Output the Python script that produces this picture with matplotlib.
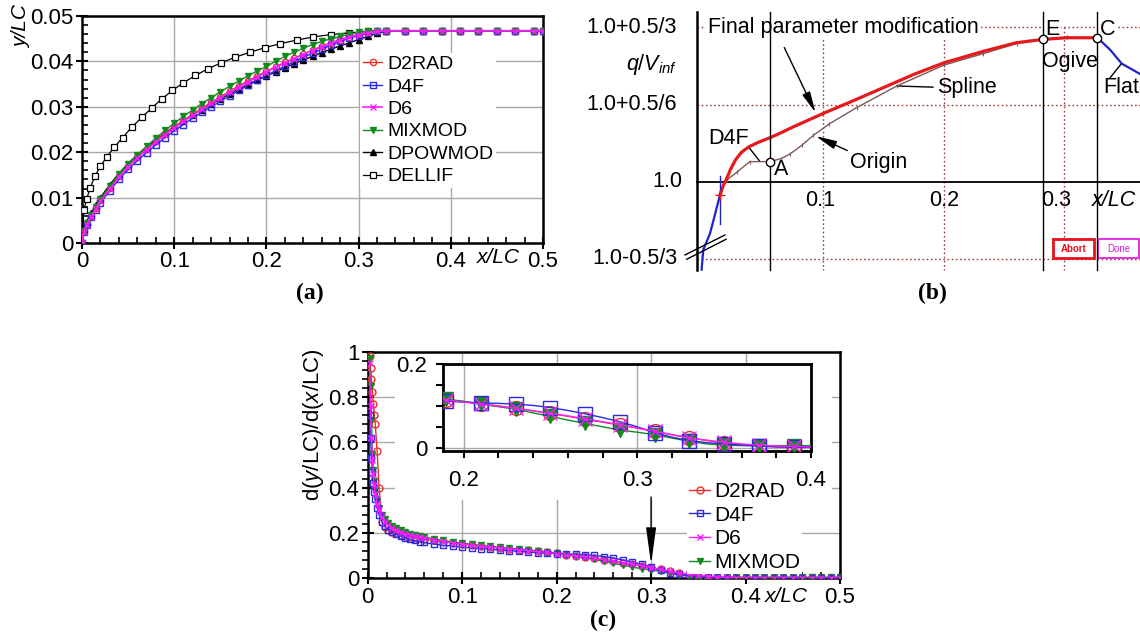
import matplotlib
matplotlib.use('Agg')
import matplotlib.pyplot as plt
from matplotlib.ticker import MultipleLocator, FuncFormatter
from matplotlib.patches import Rectangle

plt.rcParams['font.family'] = ['Liberation Sans', 'DejaVu Sans']
plt.rcParams['mathtext.fontset'] = 'custom'
plt.rcParams['mathtext.rm'] = 'Liberation Sans'
plt.rcParams['mathtext.it'] = 'Liberation Sans:italic'

# ---------------- (a) y/LC over x/LC ----------------
xa = [0, 0.002, 0.005, 0.01, 0.015, 0.02, 0.03, 0.04, 0.05, 0.06, 0.07, 0.08, 0.09,
      0.10, 0.11, 0.12, 0.13, 0.14, 0.15, 0.16, 0.17, 0.18, 0.19, 0.20, 0.21, 0.22,
      0.23, 0.24, 0.25, 0.26, 0.27, 0.28, 0.29, 0.30, 0.31, 0.32, 0.33, 0.35, 0.37,
      0.39, 0.41, 0.43, 0.45, 0.47, 0.49, 0.50]
ya_d2rad = [0, 0.0026, 0.0042, 0.0060, 0.0077, 0.0094, 0.0121, 0.0147, 0.0170, 0.0190,
            0.0208, 0.0225, 0.0241, 0.0256, 0.0270, 0.0284, 0.0297, 0.0310, 0.0322,
            0.0334, 0.0346, 0.0357, 0.0368, 0.0378, 0.0388, 0.0398, 0.0407, 0.0416,
            0.0425, 0.0433, 0.0441, 0.0448, 0.0454, 0.0460, 0.0464, 0.0466, 0.0467,
            0.0467, 0.0467, 0.0467, 0.0467, 0.0467, 0.0467, 0.0467, 0.0467, 0.0467]
ya_d4f = [0, 0.0024, 0.0039, 0.0057, 0.0073, 0.0089, 0.0114, 0.0140, 0.0162, 0.0181,
          0.0199, 0.0216, 0.0232, 0.0247, 0.0261, 0.0275, 0.0288, 0.0300, 0.0312,
          0.0324, 0.0336, 0.0347, 0.0358, 0.0369, 0.0379, 0.0389, 0.0399, 0.0409,
          0.0418, 0.0427, 0.0436, 0.0444, 0.0451, 0.0457, 0.0462, 0.0466, 0.0467,
          0.0467, 0.0467, 0.0467, 0.0467, 0.0467, 0.0467, 0.0467, 0.0467, 0.0467]
ya_d6 = [0, 0.0025, 0.0040, 0.0058, 0.0075, 0.0092, 0.0118, 0.0145, 0.0168, 0.0187,
         0.0205, 0.0222, 0.0238, 0.0253, 0.0268, 0.0281, 0.0295, 0.0308, 0.0320,
         0.0332, 0.0344, 0.0355, 0.0366, 0.0377, 0.0387, 0.0397, 0.0406, 0.0415,
         0.0424, 0.0432, 0.0440, 0.0447, 0.0453, 0.0459, 0.0463, 0.0466, 0.0467,
         0.0467, 0.0467, 0.0467, 0.0467, 0.0467, 0.0467, 0.0467, 0.0467, 0.0467]
ya_mixmod = [0, 0.0027, 0.0043, 0.0062, 0.0079, 0.0097, 0.0125, 0.0151, 0.0174, 0.0194,
             0.0213, 0.0231, 0.0248, 0.0264, 0.0279, 0.0293, 0.0307, 0.0320, 0.0333,
             0.0345, 0.0357, 0.0368, 0.0379, 0.0389, 0.0400, 0.0411, 0.0420, 0.0429,
             0.0437, 0.0444, 0.0450, 0.0455, 0.0460, 0.0464, 0.0467, 0.0468, 0.0468,
             0.0468, 0.0468, 0.0468, 0.0468, 0.0468, 0.0468, 0.0468, 0.0468, 0.0468]
ya_dpowmod = [0, 0.0030, 0.0047, 0.0066, 0.0083, 0.0100, 0.0128, 0.0153, 0.0175, 0.0194,
              0.0211, 0.0227, 0.0242, 0.0256, 0.0269, 0.0282, 0.0294, 0.0306, 0.0317,
              0.0328, 0.0339, 0.0349, 0.0359, 0.0368, 0.0377, 0.0386, 0.0395, 0.0403,
              0.0411, 0.0419, 0.0427, 0.0434, 0.0441, 0.0448, 0.0455, 0.0462, 0.0467,
              0.0467, 0.0467, 0.0467, 0.0467, 0.0467, 0.0467, 0.0467, 0.0467, 0.0467]
xa_dellif = [0, 0.002, 0.005, 0.009, 0.014, 0.02, 0.027, 0.035, 0.044, 0.054, 0.065,
             0.076, 0.087, 0.098, 0.11, 0.123, 0.137, 0.151, 0.166, 0.182, 0.198, 0.215,
             0.233, 0.251, 0.27, 0.29, 0.31, 0.33, 0.35, 0.37, 0.39, 0.41, 0.43, 0.45,
             0.47, 0.49]
ya_dellif = [0, 0.0072, 0.0097, 0.0122, 0.0147, 0.0169, 0.0190, 0.0211, 0.0232, 0.0255,
             0.0277, 0.0298, 0.0318, 0.0336, 0.0353, 0.0369, 0.0384, 0.0397, 0.0409,
             0.0420, 0.0430, 0.0439, 0.0447, 0.0454, 0.0459, 0.0463, 0.0466, 0.0467,
             0.0467, 0.0467, 0.0467, 0.0467, 0.0467, 0.0467, 0.0467, 0.0467]

# ---------------- (b) q/V_inf sketch (y in steps of 0.5/6 above 1.0) ----------------
xb_red = [0.0143, 0.017, 0.0198, 0.023, 0.027, 0.032, 0.038, 0.046, 0.0558, 0.065,
          0.075, 0.1, 0.122, 0.15, 0.175, 0.2, 0.233, 0.26, 0.283, 0.302, 0.327]
yb_red = [-0.17, -0.05, 0.04, 0.16, 0.28, 0.38, 0.45, 0.51, 0.57, 0.635, 0.71, 0.885,
          1.03, 1.22, 1.39, 1.54, 1.69, 1.80, 1.845, 1.865, 1.865]
xb_origin = [0.0198, 0.028, 0.039, 0.0558, 0.065, 0.0724, 0.082, 0.0917, 0.105, 0.1277,
             0.161, 0.2, 0.2328, 0.2605, 0.2826, 0.302, 0.327]
yb_origin = [0.02, 0.12, 0.26, 0.26, 0.30, 0.36, 0.47, 0.60, 0.75, 0.96, 1.24, 1.51,
             1.66, 1.79, 1.844, 1.87, 1.865]
xb_blue_front = [-0.001, 0.0004, 0.006, 0.0105, 0.0143]
yb_blue_front = [-1.14, -0.88, -0.67, -0.40, -0.17]
xb_blue_flat = [0.3274, 0.338, 0.3476, 0.3629]
yb_blue_flat = [1.865, 1.71, 1.53, 1.395]
xb_points = [0.0558, 0.2826, 0.3274]   # A, E, C
yb_points = [0.26, 1.844, 1.865]
yb_ticklabels = ['1.0-0.5/3', '1.0', '1.0+0.5/6', '1.0+0.5/3']
yb_tickpos = [-1, 0, 1, 2]

# ---------------- (c) slope d(y/LC)/d(x/LC) ----------------
xc = [0.002, 0.003, 0.004, 0.005, 0.006, 0.007, 0.008, 0.010, 0.012, 0.015, 0.018,
      0.022, 0.026, 0.030, 0.035, 0.040, 0.045, 0.050, 0.055, 0.060, 0.07, 0.08, 0.09,
      0.10, 0.11, 0.12, 0.13, 0.14, 0.15, 0.16, 0.17, 0.18, 0.19, 0.20, 0.21, 0.22,
      0.23, 0.24, 0.25, 0.26, 0.27, 0.28, 0.29, 0.30, 0.31, 0.32, 0.33, 0.34, 0.35,
      0.36, 0.37, 0.38, 0.39, 0.40, 0.41, 0.42, 0.43, 0.44, 0.45, 0.46, 0.47, 0.48,
      0.49, 0.50]
yc_d2rad = [0.98, 0.93, 0.88, 0.82, 0.77, 0.72, 0.68, 0.56, 0.40, 0.25, 0.228, 0.215,
            0.205, 0.199, 0.193, 0.188, 0.183, 0.179, 0.176, 0.173, 0.167, 0.162, 0.157,
            0.152, 0.147, 0.143, 0.139, 0.135, 0.131, 0.127, 0.123, 0.119, 0.115, 0.110,
            0.105, 0.100, 0.094, 0.088, 0.082, 0.075, 0.068, 0.061, 0.054, 0.047, 0.039,
            0.031, 0.024, 0.017, 0.011, 0.007, 0.004, 0.002, 0.001, 0.001, 0, 0, 0, 0,
            0, 0, 0, 0, 0, 0]
yc_d4f = [0.72, 0.62, 0.53, 0.47, 0.42, 0.38, 0.35, 0.31, 0.28, 0.25, 0.23, 0.215, 0.204,
          0.195, 0.186, 0.179, 0.172, 0.167, 0.162, 0.158, 0.151, 0.146, 0.142, 0.138,
          0.134, 0.131, 0.128, 0.125, 0.122, 0.119, 0.116, 0.113, 0.111, 0.109, 0.107,
          0.106, 0.104, 0.101, 0.096, 0.089, 0.081, 0.072, 0.062, 0.050, 0.036, 0.025,
          0.017, 0.012, 0.009, 0.006, 0.004, 0.002, 0.001, 0.001, 0, 0, 0, 0, 0, 0, 0,
          0, 0, 0]
yc_d6 = [0.95, 0.76, 0.62, 0.52, 0.46, 0.41, 0.37, 0.33, 0.30, 0.27, 0.25, 0.235, 0.222,
         0.213, 0.204, 0.197, 0.191, 0.186, 0.181, 0.177, 0.169, 0.163, 0.157, 0.151,
         0.146, 0.142, 0.138, 0.134, 0.130, 0.126, 0.122, 0.118, 0.114, 0.109, 0.104,
         0.099, 0.094, 0.088, 0.082, 0.076, 0.069, 0.062, 0.055, 0.047, 0.039, 0.031,
         0.023, 0.018, 0.013, 0.009, 0.006, 0.004, 0.003, 0.002, 0.001, 0.001, 0.001,
         0.001, 0.001, 0.001, 0.001, 0.001, 0.001, 0.001]
yc_mixmod = [0.97, 0.85, 0.70, 0.55, 0.48, 0.43, 0.39, 0.34, 0.31, 0.28, 0.26, 0.245,
             0.232, 0.222, 0.212, 0.204, 0.197, 0.191, 0.186, 0.182, 0.174, 0.167, 0.161,
             0.155, 0.150, 0.145, 0.141, 0.137, 0.133, 0.129, 0.125, 0.121, 0.116, 0.111,
             0.104, 0.098, 0.092, 0.083, 0.075, 0.066, 0.058, 0.050, 0.042, 0.037, 0.031,
             0.023, 0.015, 0.009, 0.006, 0.005, 0.005, 0.005, 0.005, 0.005, 0.005, 0.005,
             0.005, 0.005, 0.005, 0.005, 0.005, 0.005, 0.005, 0.005]

W, H = 1140, 638
fig = plt.figure(figsize=(W / 100, H / 100), dpi=100)


def px_axes(l, t, r, b):
    return fig.add_axes([l / W, 1 - b / H, (r - l) / W, (b - t) / H])


fmt = FuncFormatter(lambda v, p: '%g' % round(v, 6))
RED, BLUE, PINK, GREEN = '#e8302a', '#2a2ae0', '#ff1aff', '#138a1e'
FS = 14      # legend text
TFS = 16     # tick labels
BFS = 15.5   # panel (b) text

# ======== panel (a) ========
axa = px_axes(82, 16, 543, 243)
axa.set_xlim(0, 0.5)
axa.set_ylim(0, 0.05)
axa.set_axisbelow(True)
axa.grid(True, color='#a8a8a8', lw=1)
axa.xaxis.set_major_locator(MultipleLocator(0.1))
axa.xaxis.set_minor_locator(MultipleLocator(0.02))
axa.yaxis.set_major_locator(MultipleLocator(0.01))
axa.yaxis.set_minor_locator(MultipleLocator(0.002))
axa.xaxis.set_major_formatter(fmt)
axa.yaxis.set_major_formatter(fmt)
axa.tick_params(which='major', direction='inout', length=8, width=1.5, labelsize=TFS, pad=2)
axa.tick_params(which='minor', direction='in', length=4, width=1.2)
for s in axa.spines.values():
    s.set_linewidth(1.8)

la_dellif, = axa.plot(xa_dellif, ya_dellif, color='k', lw=0.9, marker='s', ms=4,
                      mfc='white', mew=0.9, zorder=3)
la_dpow, = axa.plot(xa, ya_dpowmod, color='k', lw=1, marker='^', ms=4.5, zorder=4)
la_d2rad, = axa.plot(xa, ya_d2rad, color=RED, lw=1, marker='o', ms=4.5, mfc='none', zorder=5)
la_d4f, = axa.plot(xa, ya_d4f, color=BLUE, lw=1, marker='s', ms=4.5, mfc='none', zorder=6)
la_mix, = axa.plot(xa, ya_mixmod, color=GREEN, lw=1, marker='v', ms=4.5, zorder=7)
la_d6, = axa.plot(xa, ya_d6, color=PINK, lw=1.2, marker='x', ms=4.5, zorder=8)

leg = axa.legend([la_d2rad, la_d4f, la_d6, la_mix, la_dpow, la_dellif],
                 ['D2RAD', 'D4F', 'D6', 'MIXMOD', 'DPOWMOD', 'DELLIF'],
                 loc='upper left', bbox_to_anchor=((360 - 82) / 461, 1 - (52.5 - 16) / 227),
                 fontsize=FS, numpoints=1, handlelength=1.0, handletextpad=0.25,
                 labelspacing=0.25, borderpad=0.15, borderaxespad=0, fancybox=False)
leg.get_frame().set_edgecolor('none')
leg.get_frame().set_alpha(1)
axa.text(0.452, -0.062, 'x/LC', style='italic', fontsize=15, ha='center', va='center',
         transform=axa.get_xaxis_transform())
fig.text(22 / W, 1 - 26 / H, 'y/LC', style='italic', fontsize=15, rotation=90,
         ha='center', va='center')
fig.text(310 / W, 1 - 293 / H, '(a)', fontsize=17, fontweight='bold',
         family='Liberation Serif', ha='center', va='center')

# ======== panel (b) ========
axb = px_axes(560, 0, 1140, 310)
axb.set_xlim(-0.1185, 0.3628)
axb.set_ylim(-1.662, 2.354)
axb.axis('off')
xr = 0.3628
ytop, ybot = 2.2, -1.144
dot = dict(color='#9a4040', ls=(0, (1.2, 1.8)), lw=1, zorder=1)
for yy in [2, 1, -1]:
    axb.plot([-0.005, xr], [yy, yy], **dot)
for xx in [0.1, 0.2, 0.3]:
    axb.plot([xx, xx], [2, ybot], **dot)
axb.plot([-0.005, -0.005], [ytop, ybot], color='k', lw=1.8, zorder=2)
for xx in xb_points:
    axb.plot([xx, xx], [ytop, ybot], color='k', lw=1, zorder=6)
axb.plot([-0.005, xr], [0, 0], color='k', lw=1.3, zorder=2)

axb.plot(xb_origin, yb_origin, color='#7a5a5a', lw=1, marker='|', ms=3, mew=0.8, zorder=3)
axb.plot(xb_red, yb_red, color='#e41a1c', lw=2.3, zorder=4)
axb.plot(xb_blue_front, yb_blue_front, color='#2222cc', lw=1.6, zorder=4)
axb.plot(xb_blue_flat, yb_blue_flat, color='#2222cc', lw=1.6, zorder=4)
axb.plot([xb_red[0]] * 2, [0.07, -0.55], color='#2222cc', lw=1, zorder=4)
axb.plot([xb_red[0]], [yb_red[0]], marker='+', color='#e41a1c', ms=7, zorder=5)
axb.plot(xb_points, yb_points, 'o', ms=6, mfc='white', mec='k', mew=1, zorder=7)

wb = dict(facecolor='white', edgecolor='none', pad=1.5)
axb.text(0.0043, 2.0, 'Final parameter modification', fontsize=BFS, va='center',
         ha='left', bbox=wb, zorder=5)
axb.annotate('', xy=(0.0945, 0.864), xytext=(0.0666, 1.771),
             arrowprops=dict(arrowstyle='-|>,head_length=0.9,head_width=0.18',
                             color='k', lw=1, mutation_scale=14), zorder=8)
axb.annotate('', xy=(0.0917, 0.605), xytext=(0.122, 0.389),
             arrowprops=dict(arrowstyle='-|>,head_length=0.9,head_width=0.18',
                             color='k', lw=1, mutation_scale=14), zorder=8)
axb.text(0.1225, 0.25, 'Origin', fontsize=BFS, ha='left', va='center')
axb.plot([0.161, 0.191], [1.24, 1.225], color='k', lw=1)
axb.text(0.1943, 1.225, 'Spline', fontsize=BFS, ha='left', va='center')
axb.plot([0.039, 0.047], [0.43, 0.27], color='k', lw=1)
axb.text(0.021, 0.562, 'D4F', fontsize=BFS, ha='center', va='center')
axb.text(0.0649, 0.152, 'A', fontsize=BFS, ha='center', va='center')
axb.text(0.2899, 1.978, 'E', fontsize=BFS, ha='center', va='center', bbox=wb)
axb.text(0.3357, 1.978, 'C', fontsize=BFS, ha='center', va='center', bbox=wb)
axb.text(0.3050, 1.554, 'Ogive', fontsize=BFS, ha='center', va='center')
axb.text(0.3321, 1.223, 'Flat', fontsize=BFS, ha='left', va='center')
axb.plot([0.3378, 0.3476], [1.343, 1.534], color='k', lw=1)
for xx, lab in zip([0.0972, 0.2, 0.2936], ['0.1', '0.2', '0.3']):
    axb.text(xx, -0.237, lab, fontsize=BFS, ha='center', va='center')
axb.text(0.3413, -0.237, 'x/LC', style='italic', fontsize=BFS, ha='center', va='center')
for yy, lab in zip(yb_tickpos, yb_ticklabels):
    axb.text(-0.0214 if lab != '1.0' else -0.0173, yy, lab, fontsize=BFS,
             ha='right', va='center')
axb.text(-0.0214, 1.512, r'$q/V_{inf}$', fontsize=BFS, ha='right', va='center')
# axis break marks
axb.plot([-0.0148, 0.0184], [-0.949, -0.690], color='k', lw=1, zorder=6)
axb.plot([-0.0134, 0.0193], [-1.005, -0.746], color='k', lw=1, zorder=6)
# Abort / Done buttons
axb.add_patch(Rectangle((0.2907, -0.992), 0.034, 0.246, fc='white', ec='#e8101a', lw=2, zorder=5))
axb.text(0.3077, -0.869, 'Abort', color='#e8101a', fontsize=7, fontweight='bold',
         ha='center', va='center', zorder=6)
axb.add_patch(Rectangle((0.3282, -0.992), 0.034, 0.246, fc='white', ec='#e020e0', lw=1.3, zorder=5))
axb.text(0.3452, -0.869, 'Done', color='#e020e0', fontsize=7, ha='center', va='center', zorder=6)
axb.text(0.1903, -1.443, '(b)', fontsize=17, fontweight='bold', family='Liberation Serif',
         ha='center', va='center')

# ======== panel (c) ========
axc = px_axes(367.7, 351.7, 840, 578.3)
axc.set_xlim(0, 0.5)
axc.set_ylim(0, 1)
axc.set_axisbelow(True)
axc.grid(True, color='#a8a8a8', lw=1)
axc.xaxis.set_major_locator(MultipleLocator(0.1))
axc.xaxis.set_minor_locator(MultipleLocator(0.02))
axc.yaxis.set_major_locator(MultipleLocator(0.2))
axc.yaxis.set_minor_locator(MultipleLocator(0.04))
axc.xaxis.set_major_formatter(fmt)
axc.yaxis.set_major_formatter(fmt)
axc.tick_params(which='major', direction='inout', length=8, width=1.5, labelsize=TFS, pad=2)
axc.tick_params(axis='y', which='minor', direction='out', length=4, width=1.2)
axc.tick_params(axis='x', which='minor', direction='in', length=4, width=1.2)
for s in axc.spines.values():
    s.set_linewidth(1.8)
axc.add_patch(Rectangle(((395 - 367.7) / 472.3, (578.3 - 500) / 226.6),
                        (832 - 395) / 472.3, (500 - 364) / 226.6,
                        transform=axc.transAxes, fc='white', ec='none', zorder=1))

series_c = [
    ('D2RAD', yc_d2rad, dict(color=RED, marker='o', mfc='none'), 3),
    ('MIXMOD', yc_mixmod, dict(color=GREEN, marker='v'), 4),
    ('D4F', yc_d4f, dict(color=BLUE, marker='s', mfc='none'), 5),
    ('D6', yc_d6, dict(color=PINK, marker='x'), 6),
]
hc = {}
for name, yy, st, z in series_c:
    hc[name], = axc.plot(xc, yy, lw=1, ms=5, zorder=z, **st)
legc = axc.legend([hc['D2RAD'], hc['D4F'], hc['D6'], hc['MIXMOD']],
                  ['D2RAD', 'D4F', 'D6', 'MIXMOD'], loc='upper left',
                  bbox_to_anchor=((687 - 367.7) / 472.3, (578.3 - 480) / 226.6),
                  fontsize=15, numpoints=1, handlelength=1.0, handletextpad=0.2,
                  labelspacing=0.22, borderpad=0.1, borderaxespad=0, fancybox=False)
legc.get_frame().set_edgecolor('none')
legc.get_frame().set_alpha(1)
legc.set_zorder(9)
axc.annotate('', xy=(0.3, 0.05), xytext=(0.3, 0.371),
             arrowprops=dict(arrowstyle='-|>,head_length=1.6,head_width=0.22',
                             color='k', lw=1, mutation_scale=14), zorder=10)
axc.text(0.4437, -0.0825, 'x/LC', style='italic', fontsize=15, ha='center', va='center',
         transform=axc.get_xaxis_transform())
fig.text(313 / W, 1 - 425 / H, r'd($\mathit{y}$/LC)/d($\mathit{x}$/LC)', fontsize=16,
         rotation=90, ha='center', va='center')
fig.text(603 / W, 1 - 620 / H, '(c)', fontsize=17, fontweight='bold',
         family='Liberation Serif', ha='center', va='center')

# inset
axi = px_axes(442.7, 364, 811, 451)
axi.set_xlim(0.188, 0.4)
axi.set_ylim(-0.0079, 0.2)
axi.set_axisbelow(True)
axi.grid(True, color='#a8a8a8', lw=1)
axi.xaxis.set_major_locator(MultipleLocator(0.1))
axi.xaxis.set_minor_locator(MultipleLocator(0.02))
axi.yaxis.set_major_locator(MultipleLocator(0.2))
axi.yaxis.set_minor_locator(MultipleLocator(0.05))
axi.xaxis.set_major_formatter(fmt)
axi.yaxis.set_major_formatter(fmt)
axi.tick_params(which='both', direction='out', length=5, width=1.5, labelsize=TFS)
axi.tick_params(axis='x', pad=9)
axi.tick_params(axis='y', pad=6)
for s in axi.spines.values():
    s.set_linewidth(2)
for name, yy, st, z in series_c:
    axi.plot(xc, yy, lw=1, ms=10, markevery=2, zorder=z, **st)

fig.savefig('out.png', dpi=100)
